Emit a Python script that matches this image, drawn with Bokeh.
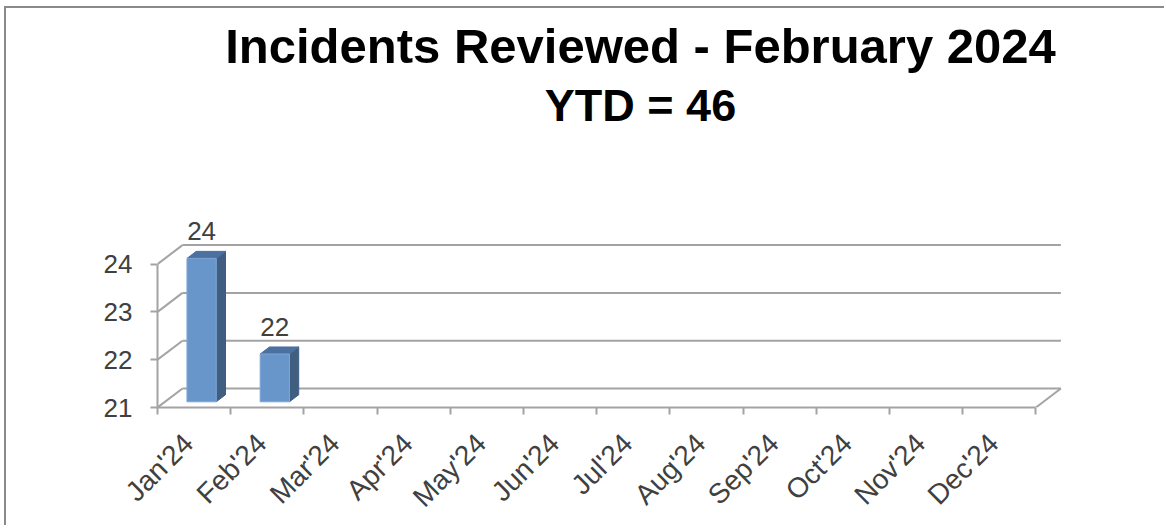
import math
from bokeh.plotting import figure
from bokeh.models import Range1d, FixedTicker, Label
from bokeh.core.properties import value
from bokeh.embed import file_html
from bokeh.resources import INLINE

# ---------------- data ----------------
months = ["Jan'24", "Feb'24", "Mar'24", "Apr'24", "May'24", "Jun'24",
          "Jul'24", "Aug'24", "Sep'24", "Oct'24", "Nov'24", "Dec'24"]
incidents = [24, 22]          # only Jan and Feb reported so far
y_ticks = [21, 22, 23, 24]
title_text = "Incidents Reviewed - February 2024"
ytd_text = "YTD = %d" % sum(incidents)

# ---------------- geometry (pixel layout) ----------------
MARGIN_L, MARGIN_T, BORDER = 4, 6, 2
OFF_X = MARGIN_L + BORDER      # page x where canvas starts
OFF_Y = MARGIN_T + BORDER      # page y where canvas starts
W, H = 1160, 519
FRONT_L_PX = 157       # page x of front-left corner of floor
FRONT_B_PX = 407       # page y of front floor line (value 21)
UX = 73.2              # px per category
UY = 47.8              # px per unit of value
DEPTH_X = 25 / UX      # pseudo-3D depth offset, data units
DEPTH_Y = 19 / UY
T_FRONT, T_BACK = 0.30, 0.67
BAR_W = 0.40

frame_left = FRONT_L_PX - OFF_X
frame_bottom = FRONT_B_PX - OFF_Y
x_end = (OFF_X + W - FRONT_L_PX) / UX
y_end = y_ticks[0] + (FRONT_B_PX - OFF_Y) / UY

p = figure(width=W, height=H, output_backend="svg", toolbar_location=None,
           x_range=Range1d(0, x_end), y_range=Range1d(y_ticks[0], y_end),
           min_border_left=frame_left, min_border_right=0, min_border_top=0,
           min_border_bottom=H - frame_bottom)
p.margin = (MARGIN_T, 0, 0, MARGIN_L)
p.styles = {"border-left": "%dpx solid #8a8a8a" % BORDER,
            "border-top": "%dpx solid #8a8a8a" % BORDER}
p.outline_line_color = None
p.xgrid.visible = False
p.ygrid.visible = False
p.background_fill_color = "white"
p.border_fill_color = "white"

GRID = "#a3a3a3"
TXT = "#404040"
FONT = value("Liberation Sans")
n = len(months)

# back wall gridlines + diagonals
p.segment(x0=[DEPTH_X] * len(y_ticks), y0=[v + DEPTH_Y for v in y_ticks],
          x1=[n + DEPTH_X] * len(y_ticks), y1=[v + DEPTH_Y for v in y_ticks],
          line_color=GRID, line_width=2)
p.segment(x0=[0] * len(y_ticks), y0=y_ticks,
          x1=[DEPTH_X] * len(y_ticks), y1=[v + DEPTH_Y for v in y_ticks],
          line_color=GRID, line_width=2)
# right floor edge
p.segment(x0=[n], y0=[y_ticks[0]], x1=[n + DEPTH_X], y1=[y_ticks[0] + DEPTH_Y],
          line_color=GRID, line_width=2)

# bars
base = y_ticks[0]
fx = [i + 0.5 + T_FRONT * DEPTH_X for i in range(len(incidents))]
fy0 = base + T_FRONT * DEPTH_Y
tops = [v + T_FRONT * DEPTH_Y for v in incidents]
ddx = (T_BACK - T_FRONT) * DEPTH_X
ddy = (T_BACK - T_FRONT) * DEPTH_Y
left = [c - BAR_W / 2 for c in fx]
right = [c + BAR_W / 2 for c in fx]

side_xs = [[r, r + ddx, r + ddx, r] for r in right]
side_ys = [[fy0, fy0 + ddy, t + ddy, t] for t in tops]
p.patches(side_xs, side_ys, fill_color="#3f5e80", line_color="#3f5e80", line_width=1)
top_xs = [[l, r, r + ddx, l + ddx] for l, r in zip(left, right)]
top_ys = [[t, t, t + ddy, t + ddy] for t in tops]
p.patches(top_xs, top_ys, fill_color="#4c70a0", line_color="#4c70a0", line_width=1)
p.quad(left=left, right=right, bottom=[fy0] * len(incidents), top=tops,
       fill_color="#6896cb", line_color="#7ea6d6", line_width=1)

# data labels
p.text(x=fx, y=tops, text=[str(v) for v in incidents], text_align="center",
       text_baseline="alphabetic", y_offset=-27, text_font=FONT,
       text_font_size="26px", text_color=TXT)

# titles
tx = (640 - FRONT_L_PX) / UX
p.add_layout(Label(x=tx, y=base + (FRONT_B_PX - 45) / UY, text=title_text,
                   text_align="center", text_baseline="alphabetic",
                   text_font="Liberation Sans", text_font_style="bold",
                   text_font_size="49px", text_color="black"))
p.add_layout(Label(x=tx, y=base + (FRONT_B_PX - 105) / UY, text=ytd_text,
                   text_align="center", text_baseline="alphabetic",
                   text_font="Liberation Sans", text_font_style="bold",
                   text_font_size="45px", text_color="black"))

# y axis
ya = p.yaxis[0]
ya.ticker = FixedTicker(ticks=y_ticks, minor_ticks=[])
ya.bounds = (y_ticks[0], y_ticks[-1])
ya.axis_line_color = GRID
ya.axis_line_width = 2
ya.major_tick_line_color = GRID
ya.major_tick_line_width = 2
ya.major_tick_out = 7
ya.major_tick_in = 0
ya.minor_tick_line_color = None
ya.major_label_standoff = 18
ya.major_label_text_font = "Liberation Sans"
ya.major_label_text_font_size = "26px"
ya.major_label_text_color = TXT

# x axis: boundaries as minor ticks, labels near centres
label_shift = -0.08
centers = [i + 0.5 + label_shift for i in range(n)]
xa = p.xaxis[0]
xa.ticker = FixedTicker(ticks=centers, minor_ticks=list(range(n + 1)))
xa.bounds = (0, n)
xa.axis_line_color = GRID
xa.axis_line_width = 2
xa.major_tick_line_color = None
xa.major_tick_out = 0
xa.major_tick_in = 0
xa.minor_tick_line_color = GRID
xa.minor_tick_line_width = 2
xa.minor_tick_out = 7
xa.minor_tick_in = 0
xa.major_label_overrides = {c: m for c, m in zip(centers, months)}
xa.major_label_orientation = math.pi / 4
xa.major_label_standoff = 24
xa.major_label_text_font = "Liberation Sans"
xa.major_label_text_font_size = "28px"
xa.major_label_text_color = TXT

open("out.html", "w").write(file_html(p, INLINE))
